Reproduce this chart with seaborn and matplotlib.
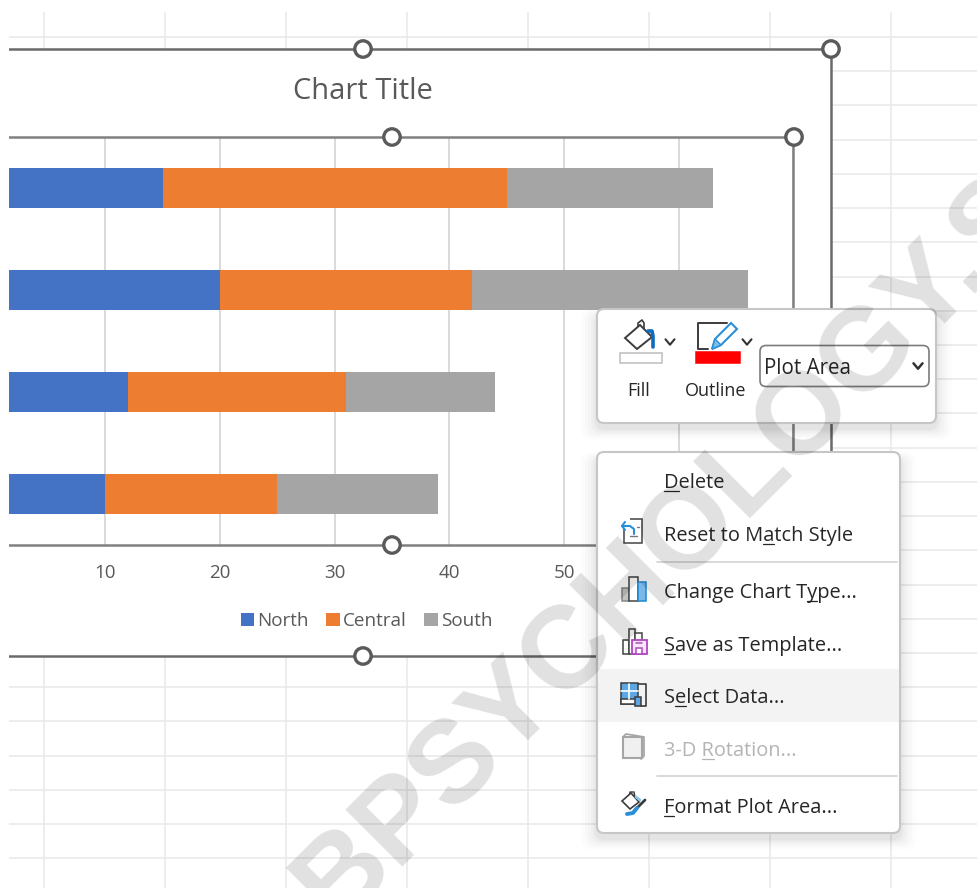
#!/usr/bin/env python

"""
Stacked bar chart inside a spreadsheet screenshot, with the right click menu open
"""

import matplotlib
matplotlib.use("Agg")
import matplotlib.pyplot as plt
import seaborn as sns
from matplotlib.patches import Circle, FancyBboxPatch, Polygon, Rectangle
from matplotlib.font_manager import FontProperties

# Chart data
categories = ["Row 1", "Row 2", "Row 3", "Row 4"]
north = [15, 20, 12, 10]
central = [30, 22, 19, 15]
south = [18, 24, 13, 14]
series_names = ["North", "Central", "South"]
series_colors = ["#4472C4", "#ED7D31", "#A5A5A5"]
x_ticks = [10, 20, 30, 40, 50, 60, 70]
x_max = 70

# Menu text, with the index of the underlined letter
menu_items = [
    ("Delete", 0, 481),
    ("Reset to Match Style", 10, 534),
    ("Change Chart Type...", 14, 591),
    ("Save as Template...", 0, 644),
    ("Select Data...", 1, 696),
    ("3-D Rotation...", 4, 749),
    ("Format Plot Area...", 0, 806),
]

W, H = 978, 888
FONT = "Open Sans"
TEXT_DARK = "#262626"
TEXT_GREY = "#595959"
FRAME = "#6a6a6a"
SHEET = "#e8e8e8"
BLUE = "#2a8fd8"

sns.set_theme(style="white")
plt.rcParams["font.family"] = [FONT, "DejaVu Sans"]

fig = plt.figure(figsize=(W / 100, H / 100), dpi=100, facecolor="white")


def pixel_axes(zorder):
    a = fig.add_axes([0, 0, 1, 1], zorder=zorder)
    a.set_xlim(0, W)
    a.set_ylim(H, 0)
    a.axis("off")
    a.patch.set_alpha(0)
    return a


bg = pixel_axes(0)
fg = pixel_axes(2)

# Sheet cells behind the chart
for x in range(44, W, 121):
    bg.plot([x, x], [12, H], color=SHEET, lw=1.1, solid_capstyle="butt")
y = 37.0
while y < H:
    bg.plot([9, W], [y, y], color=SHEET, lw=1.1, solid_capstyle="butt")
    y += 34.22

# Chart area, its left side is outside the picture
bg.add_patch(Rectangle((0, 49), 831, 607, fc="white", ec=FRAME, lw=1.8, zorder=3))

# Plot area: x=0 sits left of the picture, the left part is cut off
ax = fig.add_axes([-9.5 / W, 1 - 545 / H, 803 / W, 408 / H], zorder=1)
ax.patch.set_alpha(0)

# Stacked bars drawn back to front from the running totals
total_c = [a + b for a, b in zip(north, central)]
total_s = [a + b for a, b in zip(total_c, south)]
sns.barplot(x=total_s, y=categories, color=series_colors[2], width=0.4, saturation=1,
            label=series_names[2], ax=ax, zorder=3, linewidth=0)
sns.barplot(x=total_c, y=categories, color=series_colors[1], width=0.4, saturation=1,
            label=series_names[1], ax=ax, zorder=3, linewidth=0)
sns.barplot(x=north, y=categories, color=series_colors[0], width=0.4, saturation=1,
            label=series_names[0], ax=ax, zorder=3, linewidth=0)

ax.set_xlim(0, x_max)
ax.set_ylim(3.5, -0.5)
ax.set_xticks(x_ticks)
ax.set_xlabel("")
ax.set_ylabel("")
ax.tick_params(axis="x", length=0, pad=14, labelsize=13.5, labelcolor=TEXT_GREY)
ax.tick_params(axis="y", length=0, labelleft=False)
ax.grid(axis="x", color="#d9d9d9", lw=1.4)
ax.set_axisbelow(True)
for side in ax.spines:
    ax.spines[side].set_color("#808080")
    ax.spines[side].set_linewidth(1.8)

# Legend in North, Central, South order
handles, labels = ax.get_legend_handles_labels()
leg = fig.legend(handles[::-1], labels[::-1], loc="center", bbox_to_anchor=(366.5 / W, 1 - 621 / H),
                 ncol=3, frameon=False, fontsize=13.6, labelcolor=TEXT_GREY, handlelength=0.72,
                 handleheight=0.72, handletextpad=0.18, columnspacing=0.9, borderpad=0)
leg.set_zorder(3)

fg.text(363, 88, "Chart Title", ha="center", va="center_baseline", fontsize=21, color=TEXT_GREY)

# Selection handles
for cx, cy in [(363, 49), (831, 49), (392, 137), (794, 137), (392, 545), (363, 656)]:
    fg.add_patch(Circle((cx, cy), 8.2, fc="white", ec="#5a5a5a", lw=2.4, zorder=4))


def popup(x0, y0, x1, y1):
    for i, alpha in zip([26, 20, 15, 10, 6, 3], [0.012, 0.014, 0.016, 0.018, 0.02, 0.022]):
        fg.add_patch(FancyBboxPatch((x0 - i * 0.6, y0 - i * 0.2 + 6), x1 - x0 + i * 1.2, y1 - y0 + i * 0.6,
                                    boxstyle="round,pad=0,rounding_size=10", fc="black", ec="none",
                                    alpha=alpha, zorder=5))
    fg.add_patch(FancyBboxPatch((x0, y0), x1 - x0, y1 - y0, boxstyle="round,pad=0,rounding_size=7",
                                fc="white", ec="#c6c6c6", lw=1.5, zorder=6))


def line(xs, ys, color="#3c3c3c", lw=1.2, zorder=8):
    fg.plot(xs, ys, color=color, lw=lw, zorder=zorder, solid_capstyle="round", solid_joinstyle="round")


def chevron(cx, cy, s=4.5, lw=1.5):
    line([cx - s, cx, cx + s], [cy - s * 0.6, cy + s * 0.6, cy - s * 0.6], color="#333333", lw=lw)


def box(x, y, w, h, fc="white", ec="#3c3c3c", lw=1.1, zorder=8):
    fg.add_patch(Rectangle((x, y), w, h, fc=fc, ec=ec, lw=lw, zorder=zorder))


def poly(pts, fc="white", ec="#3c3c3c", lw=1.1):
    fg.add_patch(Polygon(pts, closed=True, fc=fc, ec=ec, lw=lw, zorder=8))


# Format toolbar
popup(597, 309, 936, 423)
line([638, 638, 642, 644, 644], [329, 323, 320, 323, 329], lw=1.2)
poly([(625, 338), (640, 325), (652, 337), (637, 349)], lw=1.4)
line([648, 652, 653, 653], [331, 331, 336, 347], color="#0f6cbd", lw=2.6)
box(619.5, 352.5, 42, 10, ec="#bdbdbd")
chevron(670, 342)
line([727, 698, 698, 708], [323, 323, 349, 349], lw=1.4)
poly([(712, 349), (715, 339), (731, 323), (737, 329), (721, 345)], fc="white", ec=BLUE, lw=1.5)
poly([(712, 349), (715, 339), (721, 345)], fc="#7cc0ea", ec=BLUE, lw=1)
box(696, 352, 44, 11, fc="#ff0000", ec="#ff0000")
chevron(747, 342)
fg.text(639, 396, "Fill", ha="center", va="baseline", fontsize=13, color=TEXT_DARK, zorder=8)
fg.text(716, 396, "Outline", ha="center", va="baseline", fontsize=13, color=TEXT_DARK, zorder=8)
fg.add_patch(FancyBboxPatch((760, 345.5), 169, 41, boxstyle="round,pad=0,rounding_size=6",
                            fc="white", ec="#7c7c7c", lw=1.2, zorder=8))
fg.text(764, 374, "Plot Area", ha="left", va="baseline", fontsize=14.8, color=TEXT_DARK, zorder=9)
chevron(918, 366, s=4.5, lw=1.8)

# Context menu
popup(597, 452, 900, 833)
fg.add_patch(Rectangle((598, 669), 301, 53, fc="#f3f3f3", ec="none", zorder=7))
for sy in [562, 776]:
    line([657, 897], [sy, sy], color="#d2d2d2", lw=1.2)

renderer = fig.canvas.get_renderer()
menu_font = FontProperties(family=FONT, size=14.4)
for label, ul, my in menu_items:
    color = "#b4b4b4" if label.startswith("3-D") else TEXT_DARK
    fg.text(664, my + 7, label, ha="left", va="baseline", fontproperties=menu_font, color=color, zorder=9)
    x0 = renderer.get_text_width_height_descent(label[:ul], menu_font, False)[0] if ul else 0
    x1 = renderer.get_text_width_height_descent(label[:ul + 1], menu_font, False)[0]
    line([664 + x0, 664 + x1], [my + 9.5, my + 9.5], color=color, lw=0.9)

# Reset icon
box(624, 519, 18, 24, ec="#444444")
fg.add_patch(Rectangle((620, 518), 10, 10, fc="white", ec="none", zorder=8))
line([622, 630, 634, 634], [526, 526, 529, 534], color=BLUE, lw=1.5)
line([625, 622, 625], [522, 526, 530], color=BLUE, lw=1.5)
line([630, 637], [536, 536], color="#777777", lw=1)
line([637, 639], [527, 527], color="#777777", lw=1)
# Change chart type icon
box(622, 588, 7, 13, fc="#c3c3c3", ec="#888888")
box(629, 577, 9, 24, ec="#444444")
box(638, 582, 8, 19, fc="#7ab8ea", ec="#1f88d0")
# Save as template icon
box(623, 640, 6, 14, ec="#444444")
box(629, 629, 6, 25, ec="#444444")
box(635, 633, 7, 8, ec="#444444")
box(632, 640, 15, 14, fc="#f6e8fa", ec="#b146c2", lw=1.3)
box(636, 648, 6, 6, ec="#b146c2")
line([636, 642], [643, 643], color="#b146c2", lw=1.1)
# Select data icon
box(621, 683, 17, 21, fc="#5ba6e4", ec="#3c3c3c")
box(621, 699, 17, 5, fc="white", ec="#3c3c3c")
line([621, 638], [691, 691], color="white")
line([629, 629], [684, 699], color="white")
line([638, 646, 646, 641], [684, 684, 706, 706], color="#3c3c3c")
box(635, 697, 6, 9, fc="#5ba6e4", ec="#3c3c3c")
# 3-D rotation icon
line([623, 626, 644, 644, 641], [737, 734, 737, 756, 759], color="#a8a8a8", lw=1.3)
box(623, 737, 19, 21, fc="#f0f0f0", ec="#a5a5a5", lw=1.5)
# Format plot area icon
line([629, 630, 634, 635], [797, 792, 792, 797], lw=1)
poly([(622, 801), (631, 793), (639, 802), (630, 809)], lw=1.2)
line([634, 645], [811, 800], color="#3c3c3c", lw=2)
line([627, 633, 637], [814, 813, 808], color=BLUE, lw=2.8)
line([636, 640], [797, 800], color="#8cc8ee", lw=2)

# Watermark over everything
fg.text(336, 925, "BPSYCHOLOGY.S", rotation=45, rotation_mode="anchor", ha="left", va="baseline",
        fontsize=84, fontweight="bold", family="Liberation Sans", color="black", alpha=0.12,
        zorder=20, clip_on=True)

# White strip left of the sheet
fg.add_patch(Rectangle((0, 0), 9, H, fc="white", ec="none", zorder=21))

fig.savefig("out.png", dpi=100)
